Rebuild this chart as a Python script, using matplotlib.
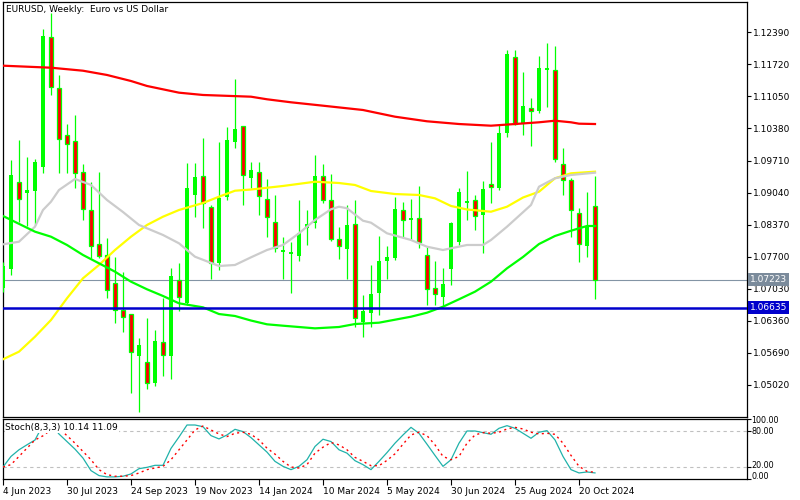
import matplotlib
matplotlib.use("Agg")
import matplotlib.pyplot as plt
import matplotlib.transforms as mtransforms

# weekly EURUSD candles, 4 Jun 2023 .. 3 Nov 2024
opens = [1.07046, 1.07443, 1.09261, 1.09031, 1.09073, 1.09575, 1.12292, 1.11226, 1.10244, 1.10118,
         1.09470, 1.08676, 1.07965, 1.07736, 1.07150, 1.06586, 1.06502, 1.05625, 1.05499, 1.05060,
         1.05917, 1.05625, 1.07213, 1.06732, 1.08990, 1.09387, 1.08739, 1.07568, 1.08948, 1.10097,
         1.10432, 1.09345, 1.09470, 1.08906, 1.08425, 1.07819, 1.07777, 1.07715, 1.08300, 1.08404,
         1.09387, 1.08885, 1.08070, 1.07861, 1.08383, 1.06335, 1.06523, 1.06941, 1.07610, 1.07673,
         1.08676, 1.08488, 1.08509, 1.07736, 1.07046, 1.06858, 1.07443, 1.08007, 1.08843, 1.08885,
         1.08572, 1.09219, 1.09136, 1.10285, 1.11874, 1.10494, 1.10808, 1.10745, 1.11623, 1.11602,
         1.09637, 1.09303, 1.08613, 1.07924, 1.08760]
highs = [1.07589, 1.09721, 1.10139, 1.09784, 1.09742, 1.12459, 1.12793, 1.11498, 1.10473, 1.10662,
         1.09637, 1.09261, 1.09470, 1.08091, 1.07694, 1.07380, 1.06502, 1.06001, 1.06419, 1.06168,
         1.06837, 1.07464, 1.07568, 1.09658, 1.09658, 1.10181, 1.08781, 1.10097, 1.10411, 1.11414,
         1.10432, 1.09679, 1.09679, 1.09324, 1.08990, 1.08112, 1.08007, 1.08885, 1.08676, 1.09826,
         1.09637, 1.09428, 1.08321, 1.08781, 1.08885, 1.06900, 1.07527, 1.08133, 1.07924, 1.08948,
         1.08843, 1.08906, 1.09178, 1.07903, 1.07610, 1.07464, 1.08425, 1.09136, 1.09491, 1.08990,
         1.09282, 1.10097, 1.10473, 1.12020, 1.12020, 1.11560, 1.11017, 1.11895, 1.12166, 1.12104,
         1.09972, 1.09345, 1.08718, 1.09052, 1.09387]
lows = [1.06962, 1.07318, 1.08425, 1.08342, 1.08363, 1.09449, 1.11080, 1.09449, 1.09449, 1.09136,
        1.08467, 1.07673, 1.07673, 1.06837, 1.06314, 1.06126, 1.04851, 1.04454, 1.04935, 1.04998,
        1.05207, 1.05144, 1.06565, 1.06691, 1.08530, 1.08300, 1.07234, 1.07422, 1.08885, 1.09972,
        1.08781, 1.09136, 1.08572, 1.08112, 1.07798, 1.07234, 1.06941, 1.07610, 1.07945, 1.08300,
        1.08822, 1.08028, 1.07652, 1.07234, 1.06231, 1.06022, 1.06231, 1.06482, 1.07234, 1.07631,
        1.08112, 1.08049, 1.07882, 1.06691, 1.06691, 1.06649, 1.07109, 1.07945, 1.08467, 1.08258,
        1.07777, 1.08822, 1.09094, 1.10202, 1.10453, 1.10244, 1.10014, 1.10703, 1.10829, 1.09679,
        1.08990, 1.08112, 1.07589, 1.07694, 1.06816]
closes = [1.07506, 1.09408, 1.08906, 1.09094, 1.09679, 1.12313, 1.11247, 1.10160, 1.10055, 1.09449,
          1.08697, 1.07924, 1.07715, 1.07004, 1.06586, 1.06440, 1.05708, 1.05855, 1.05060, 1.05938,
          1.05646, 1.07297, 1.06858, 1.09136, 1.09366, 1.08822, 1.07568, 1.08927, 1.10139, 1.10369,
          1.09408, 1.09512, 1.08969, 1.08530, 1.07882, 1.07840, 1.07798, 1.08195, 1.08383, 1.09387,
          1.08885, 1.08070, 1.07924, 1.08363, 1.06419, 1.06565, 1.06920, 1.07610, 1.07694, 1.08697,
          1.08467, 1.08488, 1.08007, 1.07025, 1.06920, 1.07129, 1.08404, 1.09052, 1.08850, 1.08551,
          1.09115, 1.09157, 1.10285, 1.11936, 1.10473, 1.10850, 1.10745, 1.11644, 1.11623, 1.09742,
          1.09303, 1.08676, 1.07965, 1.08321, 1.07223]

# moving averages (bar index, price)
ma_red_x = [0, 6, 10, 13, 16, 18, 22, 25, 31, 33, 36, 40, 45, 49, 53, 57, 61, 64, 67, 69, 71, 72, 74]
ma_red = [1.11692, 1.11650, 1.11587, 1.11498, 1.11372, 1.11268, 1.11128, 1.11080, 1.11044, 1.10990,
          1.10927, 1.10856, 1.10766, 1.10626, 1.10530, 1.10473, 1.10438, 1.10473, 1.10509, 1.10542,
          1.10509, 1.10480, 1.10473]
ma_yellow_x = [0, 2, 4, 6, 8, 10, 12, 14, 16, 18, 20, 22, 25, 27, 29, 31, 35, 39, 42, 44,
               46, 49, 52, 54, 56, 58, 61, 63, 65, 67, 69, 71, 74]
ma_yellow = [1.05556, 1.05715, 1.06028, 1.06377, 1.06831, 1.07249, 1.07527, 1.07840, 1.08118, 1.08363,
             1.08536, 1.08676, 1.08822, 1.08954, 1.09079, 1.09104, 1.09178, 1.09267, 1.09240, 1.09199,
             1.09073, 1.09010, 1.08990, 1.08920, 1.08760, 1.08687, 1.08640, 1.08745, 1.08937, 1.09058,
             1.09339, 1.09443, 1.09477]
ma_gray_x = [0, 2, 4, 5, 6, 7, 9, 11, 13, 15, 17, 20, 22, 24, 27, 29, 31, 33, 35, 37,
             39, 41, 42, 43, 45, 46, 48, 51, 53, 55, 56, 58, 60, 61, 63, 66, 67, 69, 71, 74]
ma_gray = [1.07959, 1.08013, 1.08327, 1.08676, 1.08849, 1.09094, 1.09324, 1.09199, 1.08885, 1.08634,
           1.08363, 1.08154, 1.07980, 1.07700, 1.07506, 1.07527, 1.07687, 1.07840, 1.07945, 1.08189,
           1.08467, 1.08691, 1.08745, 1.08712, 1.08452, 1.08411, 1.08189, 1.08049, 1.07909, 1.07840,
           1.07876, 1.07945, 1.07945, 1.08049, 1.08327, 1.08781, 1.09163, 1.09339, 1.09408, 1.09456]
ma_green_x = [0, 4, 6, 8, 10, 12, 14, 16, 18, 20, 22, 25, 27, 29, 31, 33, 35, 39, 42, 44,
              47, 51, 53, 55, 57, 59, 61, 63, 65, 67, 69, 71, 73, 74]
ma_green = [1.08551, 1.08223, 1.08118, 1.07945, 1.07736, 1.07562, 1.07387, 1.07178, 1.07019, 1.06879,
            1.06726, 1.06642, 1.06502, 1.06461, 1.06366, 1.06287, 1.06258, 1.06203, 1.06231, 1.06293,
            1.06321, 1.06446, 1.06530, 1.06655, 1.06810, 1.06969, 1.07178, 1.07457, 1.07694, 1.07965,
            1.08133, 1.08243, 1.08342, 1.08342]

stoch_k = [20, 37.6, 48.7, 57, 65, 90, 92, 75, 62.4, 49.8,
           34.9, 14, 5.7, 3.5, 3.5, 4.6, 8.4, 17.2, 19.4, 22.8,
           22.8, 51, 70, 90, 90, 87.2, 72.3, 66.8, 73.4, 82.8,
           79, 69, 56.9, 44.8, 29.4, 21.1, 15.6, 21.1, 32.1, 54.2,
           66.3, 62.4, 48.7, 43.1, 30.5, 23.9, 15.6, 29.4, 44, 59.7,
           73.4, 86.1, 76.2, 58, 39.3, 21.1, 32.1, 59.7, 80, 80,
           77.3, 74.5, 84.5, 88.9, 84.5, 76.2, 67.9, 77.9, 80.6, 65.2,
           37.6, 15.6, 10.1, 11.7, 10.14]
stoch_d = [20, 23.9, 37.6, 51.4, 65, 72, 82, 84, 72.3, 59.7,
           45.9, 32.1, 15.6, 7.3, 4.6, 4.6, 5.7, 10, 15.6, 18.3,
           21.1, 32.1, 48.7, 65, 81.7, 88.3, 81.7, 75.1, 70.7, 76.2,
           77.9, 74.5, 65.2, 51.4, 41.5, 29.4, 20, 18.3, 23.9, 43.1,
           53, 60.8, 56.9, 48.7, 36, 29.4, 22.2, 22.2, 31, 42,
           58, 73.4, 77.9, 72.3, 56.9, 37.6, 32.1, 37.6, 59.7, 73.4,
           77.3, 76.2, 77.9, 83.4, 86.1, 83.4, 77.9, 75.1, 76.2, 74.5,
           59.7, 39.3, 21.1, 12.8, 11.09]

date_pos = [0, 8, 16, 24, 32, 40, 48, 56, 64, 72]
date_labels = ["4 Jun 2023", "30 Jul 2023", "24 Sep 2023", "19 Nov 2023", "14 Jan 2024",
               "10 Mar 2024", "5 May 2024", "30 Jun 2024", "25 Aug 2024", "20 Oct 2024"]
price_ticks = [1.12390, 1.11720, 1.11050, 1.10380, 1.09710, 1.09040,
               1.08370, 1.07700, 1.07030, 1.06360, 1.05690, 1.05020]
last_price = 1.07223
support = 1.06635

LIME = "#00ff00"
FS = 6.5
plt.rcParams['font.family'] = 'DejaVu Sans'

fig = plt.figure(figsize=(8, 5), dpi=100)
ax = fig.add_axes([2.5 / 800, 83 / 500, 744.5 / 800, 415 / 500])
ax2 = fig.add_axes([2.5 / 800, 21 / 500, 744.5 / 800, 60 / 500])

for i in range(len(opens)):
    o, h, l, c = opens[i], highs[i], lows[i], closes[i]
    ax.vlines(i, l, h, color=LIME, lw=0.9, zorder=3)
    if abs(c - o) < 0.0003:
        ax.hlines((o + c) / 2, i - 0.3, i + 0.3, color=LIME, lw=1.4, zorder=4)
    elif c > o:
        ax.bar(i, c - o, bottom=o, width=0.6, color=LIME, lw=0, zorder=4)
    else:
        ax.bar(i, o - c, bottom=c, width=0.5, facecolor="red", edgecolor=LIME, lw=0.9, zorder=4)

ax.plot(ma_red_x, ma_red, color="red", lw=1.6, zorder=5)
ax.plot(ma_yellow_x, ma_yellow, color="#ffff00", lw=1.6, zorder=5)
ax.plot(ma_gray_x, ma_gray, color="#cccccc", lw=1.6, zorder=5)
ax.plot(ma_green_x, ma_green, color=LIME, lw=1.6, zorder=5)

ax.axhline(last_price, color="#8394a5", lw=0.8, zorder=2)
ax.axhline(support, color="#0000cc", lw=1.8, zorder=6)

ax.set_xlim(-0.06, 93)
ax.set_ylim(1.04350, 1.13023)
ax.set_xticks([])
ax.yaxis.tick_right()
ax.set_yticks(price_ticks)
ax.set_yticklabels(["%.5f" % p for p in price_ticks])
ax.tick_params(axis="y", direction="out", length=3, width=0.8, labelsize=FS, pad=1.5)

trans = mtransforms.blended_transform_factory(ax.transAxes, ax.transData)
ax.text(1.004, last_price, "%.5f" % last_price, transform=trans, color="white", fontsize=FS,
        va="center", ha="left", zorder=10,
        bbox=dict(boxstyle="square,pad=0.2", fc="#7b8b9b", ec="none"))
ax.text(1.004, support, "%.5f" % support, transform=trans, color="white", fontsize=FS,
        va="center", ha="left", zorder=10,
        bbox=dict(boxstyle="square,pad=0.2", fc="#0000cc", ec="none"))
ax.text(0.005, 0.981, "EURUSD, Weekly:  Euro vs US Dollar", transform=ax.transAxes,
        fontsize=FS, va="center", ha="left")

# stochastic panel
x = list(range(len(stoch_k)))
ax2.axhline(80, color="#c0c0c0", lw=0.8, ls=(0, (3, 3)))
ax2.axhline(20, color="#c0c0c0", lw=0.8, ls=(0, (3, 3)))
ax2.plot(x, stoch_k, color="#20b2aa", lw=0.9, zorder=3)
ax2.plot(x, stoch_d, color="red", lw=1.0, ls=(0, (1.5, 2.5)), zorder=3)
ax2.set_xlim(-0.06, 93)
ax2.set_ylim(0, 100)
ax2.set_xticks(date_pos)
ax2.set_xticklabels(date_labels, ha="left")
ax2.tick_params(axis="x", direction="out", length=4, width=0.8, labelsize=FS, pad=1.5)
ax2.yaxis.tick_right()
ax2.set_yticks([0, 20, 80, 100])
ax2.set_yticklabels([])
ax2.tick_params(axis="y", direction="out", length=3, width=0.8)
ytr = mtransforms.blended_transform_factory(ax2.transAxes, ax2.transData)
for val, lab in [(97, "100.00"), (79, "80.00"), (22, "20.00"), (4, "0.00")]:
    ax2.text(1.006, val, lab, transform=ytr, fontsize=5.8, va="center", ha="left")
ax2.text(0.004, 0.86, "Stoch(8,3,3) 10.14 11.09", transform=ax2.transAxes, fontsize=FS,
         va="center", ha="left", zorder=10,
         bbox=dict(boxstyle="square,pad=0.1", fc="white", ec="none"))

for a in (ax, ax2):
    for s in a.spines.values():
        s.set_linewidth(0.9)

fig.savefig("out.png", dpi=100)
